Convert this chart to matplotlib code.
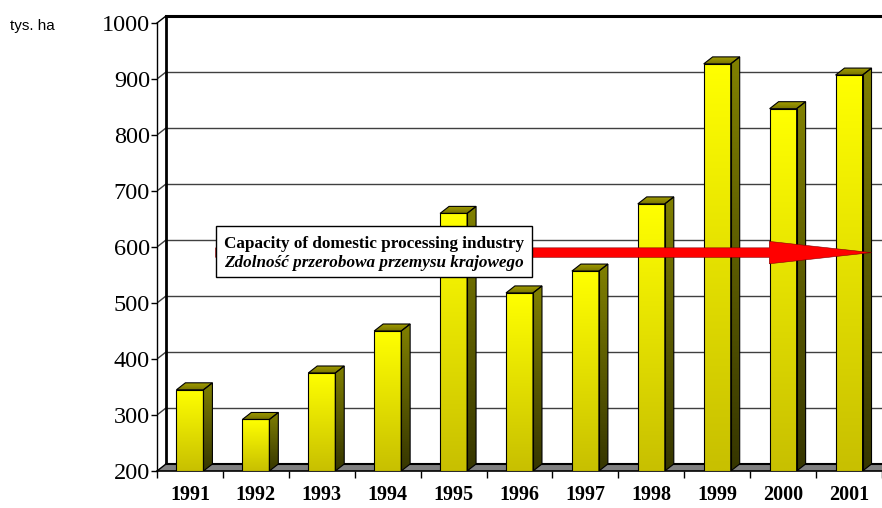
import numpy as np
import matplotlib
matplotlib.use("Agg")
import matplotlib.pyplot as plt
import matplotlib.patches as mpatches

years = ["1991", "1992", "1993", "1994", "1995", "1996",
         "1997", "1998", "1999", "2000", "2001"]
area = [345, 292, 375, 450, 660, 518, 557, 677, 927, 847, 907]
capacity = 590
yticks = [200, 300, 400, 500, 600, 700, 800, 900, 1000]
label_en = "Capacity of domestic processing industry"
label_pl = "Zdolność przerobowa przemysu krajowego"
unit = "tys. ha"

# 3d depth in data units
dx = 0.136
dy = 12.5
hw = 0.205
xmax = 10.435

fig = plt.figure(figsize=(8.82, 5.08), dpi=100)
ax = fig.add_axes([157 / 882, 37 / 508, 725 / 882, 448 / 508])
ax.set_facecolor("none")


def grad(c_top, c_bot, n=64):
    c_top = np.array(matplotlib.colors.to_rgb(c_top))
    c_bot = np.array(matplotlib.colors.to_rgb(c_bot))
    t = np.linspace(0, 1, n)[:, None]
    return (c_bot + (c_top - c_bot) * t)[:, None, :]


def face(verts, c_top, c_bot, z, lw=0.8):
    poly = mpatches.Polygon(verts, closed=True, facecolor="none",
                            edgecolor="black", lw=lw, zorder=z + 0.1)
    ax.add_patch(poly)
    xs = [v[0] for v in verts]
    ys = [v[1] for v in verts]
    im = ax.imshow(grad(c_top, c_bot), origin="lower", aspect="auto",
                   extent=(min(xs), max(xs), min(ys), max(ys)),
                   zorder=z, interpolation="bilinear")
    im.set_clip_path(poly)


# back wall: gridlines and frame
x0 = -0.5
for v in yticks[1:-1]:
    ax.plot([x0, x0 + dx], [v, v + dy], color="#404040", lw=1, zorder=1)
    ax.plot([x0 + dx, xmax + 1], [v + dy, v + dy], color="#404040", lw=1, zorder=1)
ax.plot([x0, x0 + dx], [1000, 1000 + dy], color="black", lw=1, zorder=2, clip_on=False)
ax.plot([x0 + dx, xmax + 1], [1000 + dy, 1000 + dy], color="black", lw=2.2,
        zorder=2, clip_on=False)
ax.plot([x0 + dx, x0 + dx], [200 + dy, 1000 + dy], color="black", lw=2,
        zorder=2, clip_on=False)

# floor
floor = mpatches.Polygon([(x0, 200), (xmax + 1, 200), (xmax + 1, 200 + dy),
                          (x0 + dx, 200 + dy)], closed=True,
                         facecolor="#808080", edgecolor="none", zorder=2)
ax.add_patch(floor)
ax.plot([x0 + dx, xmax + 1], [200 + dy, 200 + dy], color="black", lw=1.5, zorder=2)
ax.plot([x0, x0 + dx], [200, 200 + dy], color="black", lw=1, zorder=2)

# bars
for i, v in enumerate(area):
    z = 3 + i * 0.01
    face([(i - hw, 200), (i + hw, 200), (i + hw, v), (i - hw, v)],
         "#FFFF00", "#C8C000", z)
    face([(i + hw, 200), (i + hw + dx, 200 + dy), (i + hw + dx, v + dy), (i + hw, v)],
         "#808000", "#363600", z)
    face([(i - hw, v), (i + hw, v), (i + hw + dx, v + dy), (i - hw + dx, v + dy)],
         "#A09C00", "#787400", z)

# capacity arrow
box_l, box_r = 0.39, 5.19
arr = mpatches.FancyArrow(box_l, capacity, 10.34 - box_l, 0, width=17,
                          head_width=40, head_length=1.55,
                          length_includes_head=True, facecolor="#FF0000",
                          edgecolor="#800000", lw=0.4, zorder=5)
ax.add_patch(arr)

box = mpatches.Rectangle((box_l, 546), box_r - box_l, 91, facecolor="white",
                         edgecolor="black", lw=1, zorder=6)
ax.add_patch(box)
xc = (box_l + box_r) / 2
ax.text(xc, 606, label_en, ha="center", va="center", fontsize=12.3,
        fontweight="bold", family="Liberation Serif", zorder=7)
ax.text(xc, 572, label_pl, ha="center", va="center", fontsize=12.3,
        fontweight="bold", fontstyle="italic", family="Liberation Serif", zorder=7)

ax.set_xlim(x0, xmax)
ax.set_ylim(200, 1000)

ax.set_yticks(yticks)
ax.set_yticklabels([str(v) for v in yticks], family="Liberation Serif", fontsize=17.5)
ax.set_xticks(range(len(years)))
ax.set_xticklabels(years, family="Liberation Serif", fontsize=14.5, fontweight="bold")
ax.set_xticks(np.arange(-0.5, len(years), 1.0), minor=True)
ax.tick_params(axis="x", which="major", length=0, pad=10)
ax.tick_params(axis="x", which="minor", length=5, width=1, direction="out")
ax.tick_params(axis="y", length=4, width=1, direction="out", pad=1)
for s in ["top", "right"]:
    ax.spines[s].set_visible(False)
ax.spines["left"].set_linewidth(1)
ax.spines["bottom"].set_linewidth(1.2)
ax.spines["left"].set_zorder(2.5)
ax.spines["bottom"].set_zorder(2.5)

fig.text(10 / 882, 1 - 26 / 508, unit, fontsize=11, family="Liberation Sans",
         va="center", ha="left")

fig.savefig("out.png", dpi=100)
